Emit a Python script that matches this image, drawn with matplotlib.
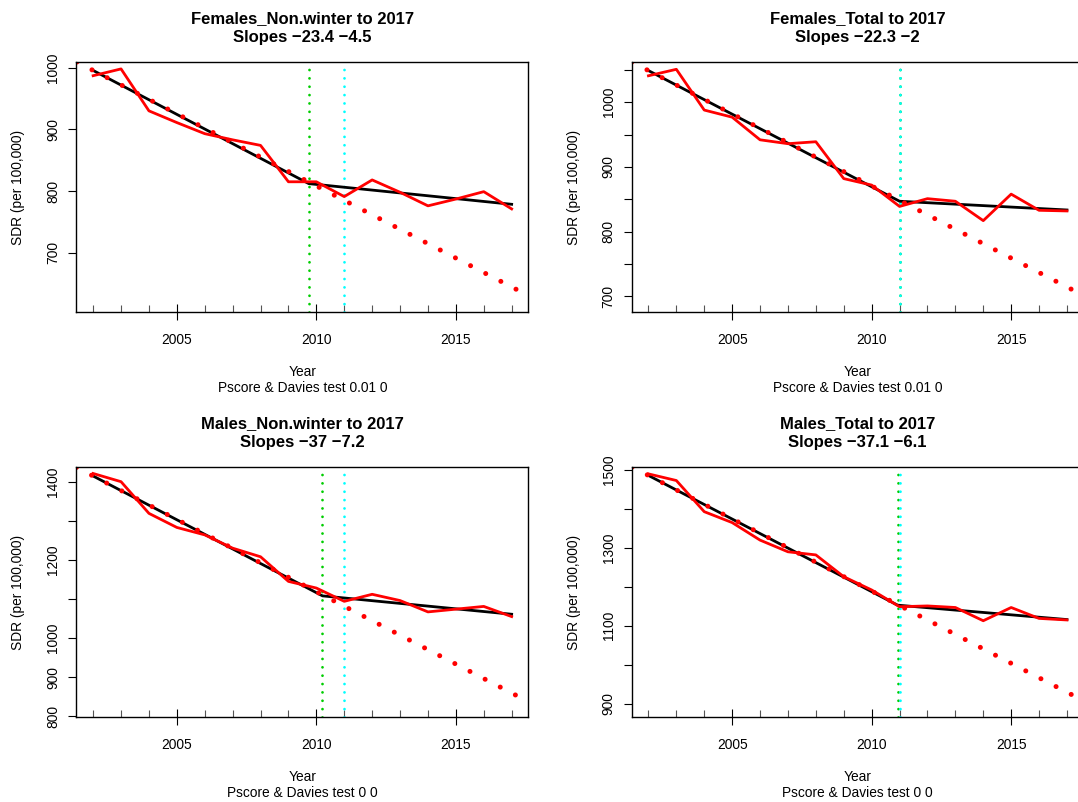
import numpy as np
import matplotlib.pyplot as plt

plt.rcParams['font.family'] = ['Liberation Sans', 'DejaVu Sans']
plt.rcParams['font.size'] = 9.9

# data
years = np.arange(2002, 2018)

titles = ["Females_Non.winter to 2017", "Females_Total to 2017",
          "Males_Non.winter to 2017", "Males_Total to 2017"]
slope_before = [-23.4, -22.3, -37, -37.1]
slope_after = [-4.5, -2, -7.2, -6.1]
pscore = ["0.01 0", "0.01 0", "0 0", "0 0"]

# observed SDR (per 100,000)
sdr_f_nonwinter = [987, 998, 930, 911, 893, 883, 874, 815, 815, 791, 818, 798, 776, 787, 799, 771]
sdr_f_total = [1041, 1051, 988, 977, 942, 936, 939, 882, 872, 839, 851, 847, 817, 858, 833, 832]
sdr_m_nonwinter = [1421, 1400, 1319, 1283, 1264, 1230, 1208, 1145, 1128, 1094, 1112, 1096, 1067, 1074, 1081, 1055]
sdr_m_total = [1490, 1473, 1393, 1365, 1320, 1290, 1282, 1226, 1192, 1149, 1151, 1147, 1113, 1147, 1119, 1115]

# segmented fit: value at 2002, at breakpoint, at 2017
break_year = [2009.73, 2011.0, 2010.22, 2010.93]
fit_f_nonwinter = [995.5, 812, 778.5]
fit_f_total = [1049, 847, 833.5]
fit_m_nonwinter = [1414.5, 1108, 1061]
fit_m_total = [1486, 1153, 1116]
davies_year = 2011

sdr = [sdr_f_nonwinter, sdr_f_total, sdr_m_nonwinter, sdr_m_total]
fits = [fit_f_nonwinter, fit_f_total, fit_m_nonwinter, fit_m_total]

# axis setup per panel
ylims = [(603.4, 1009.2), (675.3, 1062.3), (797.4, 1437.6), (865.1, 1507.7)]
yticks = [[700, 800, 900, 1000],
          [700, 750, 800, 850, 900, 950, 1000, 1050],
          [800, 900, 1000, 1100, 1200, 1300, 1400],
          [900, 1000, 1100, 1200, 1300, 1400, 1500]]
ylabels = [["700", "800", "900", "1000"],
           ["700", "", "800", "", "900", "", "1000", ""],
           ["800", "900", "1000", "", "1200", "", "1400"],
           ["900", "", "1100", "", "1300", "", "1500"]]


def fmt(v):
    return f"{v:g}".replace('-', '\u2212')


W, H = 1078, 802
fig = plt.figure(figsize=(W / 100, H / 100), dpi=100)
lefts = [76.4, 631.7]
tops = [62, 467]
aw, ah = 452, 250.3

for i in range(4):
    r, c = divmod(i, 2)
    ax = fig.add_axes([lefts[c] / W, 1 - (tops[r] + ah) / H, aw / W, ah / H])

    # break point (green) and Davies (cyan) lines
    ax.axvline(break_year[i], ymax=0.975, color='#00CD00', lw=2.0, ls=(0, (0.01, 3)),
               dash_capstyle='round')
    ax.axvline(davies_year, ymax=0.975, color='#00FFFF', lw=2.0, ls=(0, (0.01, 3)),
               dash_capstyle='round')

    # segmented fit
    ax.plot([2002, break_year[i], 2017], fits[i], color='black', lw=2.0)
    # observed
    ax.plot(years, sdr[i], color='red', lw=2.0)
    # pre-break trend projected
    ax.axline((2002, fits[i][0]), slope=slope_before[i], color='red', lw=3.6,
              ls=(0, (0.01, 3.4)), dash_capstyle='round')

    ax.set_xlim(2001.4, 2017.6)
    ax.set_ylim(*ylims[i])

    ax.set_xticks([2005, 2010, 2015])
    ax.set_xticks(years, minor=True)
    ax.tick_params(axis='x', which='major', direction='inout', length=11, width=0.8, pad=9.5)
    ax.tick_params(axis='x', which='minor', direction='in', length=5, width=0.8, color='#555555')
    ax.set_yticks(yticks[i])
    ax.set_yticklabels(ylabels[i])
    ax.tick_params(axis='y', direction='out', length=5.5, width=0.8, pad=6, labelrotation=90)
    for lab in ax.get_yticklabels():
        lab.set_va('center')

    for s in ax.spines.values():
        s.set_linewidth(1.0)

    ax.set_title(f"{titles[i]}\nSlopes {fmt(slope_before[i])} {fmt(slope_after[i])}",
                 fontsize=12, fontweight='bold', y=1 + 34 / ah, va='center', pad=0,
                 linespacing=1.4)
    ax.set_xlabel("Year", va='center')
    ax.xaxis.set_label_coords(0.5, -59.4 / ah)
    ax.text(0.5, -75.4 / ah, f"Pscore & Davies test {pscore[i]}", transform=ax.transAxes,
            ha='center', va='center')
    ax.set_ylabel("SDR (per 100,000)", va='center')
    ax.yaxis.set_label_coords(-58 / aw, 0.5)

fig.savefig('out.png', dpi=100)
